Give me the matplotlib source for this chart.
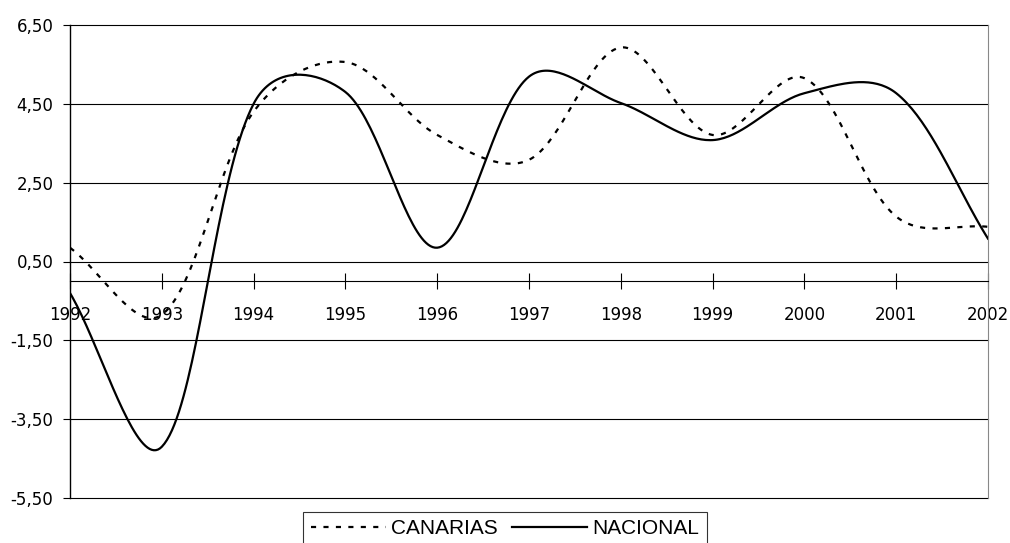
import numpy as np
import matplotlib
matplotlib.use("Agg")
import matplotlib.pyplot as plt

years = [1992, 1993, 1994, 1995, 1996, 1997, 1998, 1999, 2000, 2001, 2002]
canarias = [0.85, -0.85, 4.30, 5.56, 3.71, 3.08, 5.93, 3.71, 5.15, 1.64, 1.38]
nacional = [-0.30, -4.20, 4.50, 4.80, 0.85, 5.19, 4.52, 3.58, 4.77, 4.77, 1.08]
y_ticks = [-5.5, -3.5, -1.5, 0.5, 2.5, 4.5, 6.5]
y_labels = ["-5,50", "-3,50", "-1,50", "0,50", "2,50", "4,50", "6,50"]

# approximate screen scale (px per unit) used for smoothing
SX, SY = 92.0, 39.5
W = 0.5  # blend between chord-weighted and uniform Catmull-Rom tangents


def smooth(xs, ys, n=40):
    """Excel-like smoothed line through the points (cubic Bezier segments)."""
    P = np.column_stack([np.asarray(xs, float) * SX, np.asarray(ys, float) * SY])
    m = len(P)
    L = np.linalg.norm(np.diff(P, axis=0), axis=1)
    out = []
    for i in range(m - 1):
        p0, p3 = P[i], P[i + 1]
        if i == 0:
            c1 = p0 + (p3 - p0) / 3.0
        else:
            d = P[i + 1] - P[i - 1]
            f = W * L[i] / (L[i - 1] + L[i]) / 3.0 + (1 - W) / 6.0
            c1 = p0 + d * f
        if i + 1 == m - 1:
            c2 = p3 - (p3 - p0) / 3.0
        else:
            d = P[i + 2] - P[i]
            f = W * L[i] / (L[i] + L[i + 1]) / 3.0 + (1 - W) / 6.0
            c2 = p3 - d * f
        t = np.linspace(0, 1, n, endpoint=(i == m - 2))[:, None]
        b = (1 - t) ** 3 * p0 + 3 * (1 - t) ** 2 * t * c1 + 3 * (1 - t) * t ** 2 * c2 + t ** 3 * p3
        out.append(b)
    out = np.vstack(out)
    return out[:, 0] / SX, out[:, 1] / SY


fig = plt.figure(figsize=(10.10, 5.43), dpi=100)
ax = fig.add_axes([70 / 1010, 1 - 498 / 543, (988 - 70) / 1010, (498 - 25) / 543])

for yv in y_ticks:
    ax.axhline(yv, color="black", lw=0.8, clip_on=False, zorder=1)

cx, cy = smooth(years, canarias)
nx, ny = smooth(years, nacional)
ax.plot(cx, cy, color="black", lw=1.6, linestyle=(0, (2.3, 3.3)), label="CANARIAS", zorder=3)
ax.plot(nx, ny, color="black", lw=1.6, label="NACIONAL", zorder=3)

ax.set_xlim(years[0], years[-1])
ax.set_ylim(y_ticks[0], y_ticks[-1])

ax.spines["bottom"].set_position(("data", 0))
ax.spines["bottom"].set_linewidth(0.8)
ax.spines["top"].set_visible(False)
ax.spines["left"].set_linewidth(1.0)
ax.spines["right"].set_color("#888888")
ax.spines["right"].set_linewidth(0.8)

ax.set_xticks(years)
ax.set_xticklabels([str(y) for y in years])
ax.tick_params(axis="x", direction="inout", length=11, width=0.8, pad=12, labelsize=12)
ax.set_yticks(y_ticks)
ax.set_yticklabels(y_labels)
ax.tick_params(axis="y", direction="out", length=5, width=0.8, pad=7, labelsize=12)
for lab in ax.get_xticklabels() + ax.get_yticklabels():
    lab.set_family(["DejaVu Sans"])

leg = fig.legend(loc="lower center", bbox_to_anchor=(0.5, -0.004), ncol=2,
                 frameon=True, fancybox=False, edgecolor="black", borderaxespad=0,
                 prop={"family": ["Liberation Sans", "DejaVu Sans"], "size": 15},
                 handlelength=3.6, handletextpad=0.25, columnspacing=0.7,
                 borderpad=0.35)
leg.get_frame().set_linewidth(0.8)

fig.savefig("out.png", dpi=100)
